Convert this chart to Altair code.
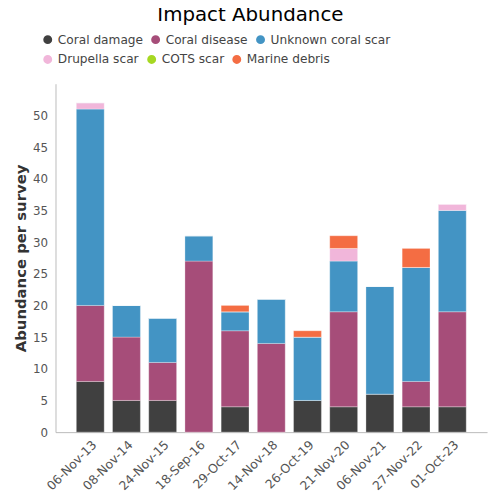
import altair as alt
import pandas as pd

dates = ["06-Nov-13", "08-Nov-14", "24-Nov-15", "18-Sep-16", "29-Oct-17", "14-Nov-18",
         "26-Oct-19", "21-Nov-20", "06-Nov-21", "27-Nov-22", "01-Oct-23"]
categories = ["Coral damage", "Coral disease", "Unknown coral scar", "Drupella scar", "COTS scar", "Marine debris"]
colors = ["#404040", "#a64d79", "#4394c4", "#f1b6da", "#a6d822", "#f46d43"]

coral_damage = [8, 5, 5, 0, 4, 0, 5, 4, 6, 4, 4]
coral_disease = [12, 10, 6, 27, 12, 14, 0, 15, 0, 4, 15]
unknown_scar = [31, 5, 7, 4, 3, 7, 10, 8, 17, 18, 16]
drupella_scar = [1, 0, 0, 0, 0, 0, 0, 2, 0, 0, 1]
cots_scar = [0, 0, 0, 0, 0, 0, 0, 0, 0, 0, 0]
marine_debris = [0, 0, 0, 0, 1, 0, 1, 2, 0, 3, 0]

series = [coral_damage, coral_disease, unknown_scar, drupella_scar, cots_scar, marine_debris]
rows = []
for ci, (cat, vals) in enumerate(zip(categories, series)):
    for d, v in zip(dates, vals):
        rows.append({"date": d, "category": cat, "value": v, "order": ci})
df = pd.DataFrame(rows)

FONT = "DejaVu Sans"
row1 = categories[:3]
row2 = categories[3:]


def legend(y):
    return alt.Legend(orient="none", legendX=-14, legendY=y, title=None,
                      direction="horizontal",
                      symbolType="circle", symbolSize=110, symbolOpacity=1,
                      labelFontSize=12.3, labelFont=FONT, labelColor="#444",
                      columnPadding=3)


base = alt.Chart(df).transform_stack(
    stack="value", groupby=["date"], as_=["y0", "y1"],
    sort=[alt.SortField("order", order="ascending")],
).mark_bar(stroke="white", strokeWidth=0.5, strokeOpacity=0.6).encode(
    x=alt.X("date:N", sort=dates, title=None,
            scale=alt.Scale(paddingInner=0.23, paddingOuter=0.575),
            axis=alt.Axis(labelAngle=-45, labelFontSize=12.5, labelColor="#555",
                          domainColor="#bbb", ticks=False, labelPadding=6, labelFont=FONT)),
    y=alt.Y("y0:Q", title="Abundance per survey",
            scale=alt.Scale(domain=[0, 55], nice=False),
            axis=alt.Axis(values=list(range(0, 55, 5)), grid=False, ticks=False,
                          labelFontSize=12, labelPadding=8,
                          labelColor="#555", titleFontSize=15, titleFont=FONT,
                          titleColor="#333", domainColor="#bbb",
                          labelFont=FONT)),
    y2="y1:Q",
)

layer1 = base.transform_filter(
    alt.FieldOneOfPredicate(field="category", oneOf=row1)
).encode(
    color=alt.Color("category:N", sort=row1,
                    scale=alt.Scale(domain=row1, range=colors[:3]),
                    legend=legend(-51)),
)

layer2 = base.transform_filter(
    alt.FieldOneOfPredicate(field="category", oneOf=row2)
).encode(
    fill=alt.Fill("category:N", sort=row2,
                  scale=alt.Scale(domain=row2, range=colors[3:]),
                  legend=legend(-31)),
)

chart = alt.layer(layer1, layer2).properties(
    width=436, height=352,
    padding={"left": 5, "top": -5, "right": 5, "bottom": 0},
    title=alt.TitleParams("Impact Abundance", fontSize=20, font=FONT, fontWeight="normal",
                          color="#000", anchor="middle", frame="bounds", offset=8),
).configure_view(stroke=None)

chart.save("out.html", embed_options={"renderer": "svg", "actions": False})
